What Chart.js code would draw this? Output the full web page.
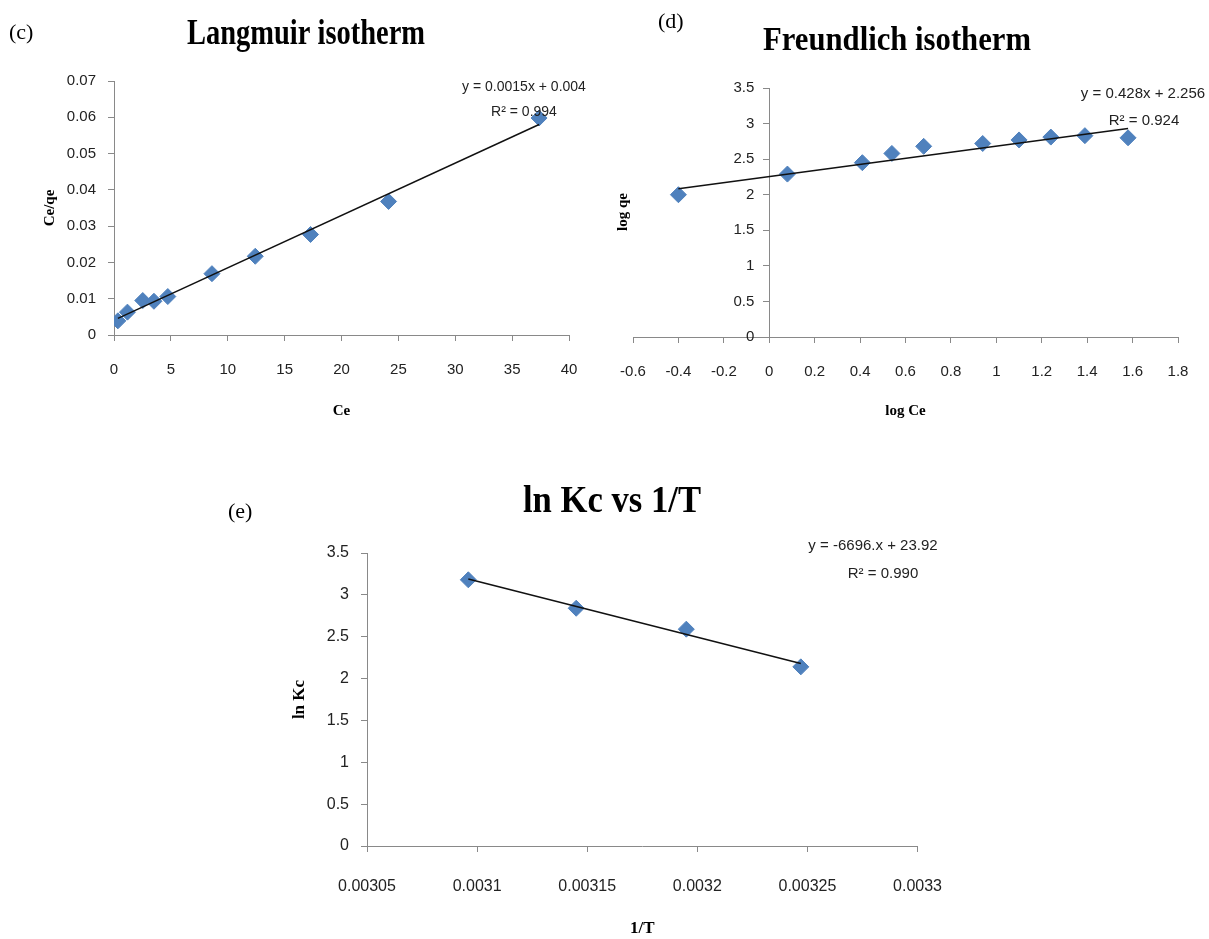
<!DOCTYPE html>
<html>
<head>
<meta charset="utf-8">
<script src="https://cdn.jsdelivr.net/npm/chart.js@4.4.1/dist/chart.umd.min.js"></script>
<style>
  html, body { margin: 0; padding: 0; background: #fff; }
  #page { position: relative; width: 1209px; height: 939px; overflow: hidden; }
  canvas { position: absolute; }
  #cLang { left: 0; top: 0; width: 600px; height: 440px; }
  #cFreu { left: 600px; top: 0; width: 609px; height: 440px; }
  #cKc { left: 220px; top: 460px; width: 747px; height: 479px; }
</style>
</head>
<body>
<div id="page">
  <canvas id="cLang" width="600" height="440"></canvas>
  <canvas id="cFreu" width="609" height="440"></canvas>
  <canvas id="cKc" width="747" height="479"></canvas>
</div>
<script>
// (c) Langmuir isotherm
const langCe = [0.34, 1.18, 2.53, 3.51, 4.73, 8.61, 12.42, 17.28, 24.14, 37.37];
const langCeQe = [0.0039, 0.0063, 0.0095, 0.0093, 0.0106, 0.0169, 0.0217, 0.0277, 0.0368, 0.0598];
const langFitX = [0.34, 37.37];
const langFitY = [0.0046, 0.0580];
const langXTicks = [0, 5, 10, 15, 20, 25, 30, 35, 40];
const langYTicks = [0, 0.01, 0.02, 0.03, 0.04, 0.05, 0.06, 0.07];

// (d) Freundlich isotherm
const freuLogCe = [-0.40, 0.08, 0.41, 0.54, 0.68, 0.94, 1.10, 1.24, 1.39, 1.58];
const freuLogQe = [2.00, 2.29, 2.45, 2.58, 2.68, 2.72, 2.77, 2.81, 2.83, 2.80];
const freuFitX = [-0.40, 1.58];
const freuFitY = [2.085, 2.932];
const freuXTicks = [-0.6, -0.4, -0.2, 0, 0.2, 0.4, 0.6, 0.8, 1, 1.2, 1.4, 1.6, 1.8];
const freuYTicks = [0, 0.5, 1, 1.5, 2, 2.5, 3, 3.5];

// (e) ln Kc vs 1/T
const kcInvT = [0.003096, 0.003145, 0.003195, 0.003247];
const kcLnKc = [3.18, 2.84, 2.59, 2.14];
const kcFitX = [0.003096, 0.003247];
const kcFitY = [3.19, 2.18];
const kcXTicks = [0.00305, 0.0031, 0.00315, 0.0032, 0.00325, 0.0033];
const kcYTicks = [0, 0.5, 1, 1.5, 2, 2.5, 3, 3.5];

const BLUE = '#4F81BD';
const AXIS = '#898989';
const SANS = '"Liberation Sans", Arial, sans-serif';
const SERIF = '"Liberation Serif", "Times New Roman", serif';

// free text drawn on the canvas: titles, panel letters, trendline equations
const textPlugin = {
    id: 'panelText',
    afterDraw(chart, args, opts) {
        const ctx = chart.ctx;
        (opts.items || []).forEach(t => {
            ctx.save();
            ctx.font = t.font;
            ctx.fillStyle = t.color || '#000';
            ctx.textBaseline = t.baseline || 'alphabetic';
            ctx.textAlign = t.align || 'left';
            ctx.translate(t.x, t.y);
            if (t.rotate) ctx.rotate(t.rotate);
            if (t.width) {
                const w = ctx.measureText(t.text).width;
                ctx.scale(t.width / w, 1);
            }
            ctx.fillText(t.text, 0, 0);
            ctx.restore();
        });
    }
};

function pts(xs, ys) {
    return xs.map((x, i) => ({ x, y: ys[i] }));
}

function datasets(xs, ys, fx, fy) {
    return [
        {
            data: pts(fx, fy),
            showLine: true,
            pointRadius: 0,
            borderColor: '#111',
            borderWidth: 1.5,
            order: 0
        },
        {
            data: pts(xs, ys),
            pointStyle: 'rectRot',
            pointRadius: 8,
            backgroundColor: BLUE,
            borderColor: BLUE,
            borderWidth: 1,
            order: 1
        }
    ];
}

function axis(ticks, decimals, extra) {
    const base = {
        type: 'linear',
        min: ticks[0],
        max: ticks[ticks.length - 1],
        afterBuildTicks: s => { s.ticks = ticks.map(v => ({ value: v })); },
        grid: { display: true, drawOnChartArea: false, drawTicks: true, tickLength: 6, color: AXIS, lineWidth: 1 },
        border: { display: true, color: AXIS, width: 1 },
        ticks: {
            color: '#222',
            font: { family: SANS, size: 15 },
            padding: 12,
            maxRotation: 0,
            autoSkip: false,
            callback: v => String(+Number(v).toFixed(decimals))
        },
        title: { display: false }
    };
    return Object.assign(base, extra);
}

function makeChart(id, ds, scales, padding, items) {
    return new Chart(document.getElementById(id), {
        type: 'scatter',
        data: { datasets: ds },
        options: {
            responsive: false,
            animation: false,
            events: [],
            layout: { padding },
            plugins: {
                legend: { display: false },
                tooltip: { enabled: false },
                panelText: { items }
            },
            scales
        },
        plugins: [textPlugin]
    });
}

// (c)
makeChart('cLang',
    datasets(langCe, langCeQe, langFitX, langFitY),
    {
        x: axis(langXTicks, 0, {
            position: 'bottom',
            afterFit: s => { s.height = 440 - 335; },
            ticks: { color: '#222', font: { family: SANS, size: 15 }, padding: 20, maxRotation: 0, autoSkip: false,
                callback: v => String(+Number(v).toFixed(0)) },
            title: { display: true, text: 'Ce', color: '#000', font: { family: SERIF, size: 15, weight: 'bold' }, padding: { top: 0, bottom: 20 } }
        }),
        y: axis(langYTicks, 2, {
            position: 'left',
            afterFit: s => { s.width = 114; },
            title: { display: true, text: 'Ce/qe', color: '#000', font: { family: SERIF, size: 15, weight: 'bold' }, padding: { top: 41, bottom: 0 } }
        })
    },
    { top: 81, right: 31, left: 0, bottom: 0 },
    [
        { text: '(c)', x: 9, y: 39, font: '22px ' + SERIF },
        { text: 'Langmuir isotherm', x: 306, y: 44, align: 'center', width: 238, font: 'bold 36px ' + SERIF },
        { text: 'y = 0.0015x + 0.004', x: 524, y: 91, align: 'center', color: '#222', font: '14px ' + SANS },
        { text: 'R\u00B2 = 0.994', x: 524, y: 116, align: 'center', color: '#222', font: '14px ' + SANS }
    ]
);

// (d) y axis crosses at x = 0; its labels get a small gap from the axis line
makeChart('cFreu',
    datasets(freuLogCe, freuLogQe, freuFitX, freuFitY),
    {
        x: axis(freuXTicks, 1, {
            position: 'bottom',
            afterFit: s => { s.height = 440 - 337; },
            ticks: { color: '#222', font: { family: SANS, size: 15 }, padding: 20, maxRotation: 0, autoSkip: false,
                callback: v => String(+Number(v).toFixed(1)) },
            title: { display: true, text: 'log Ce', color: '#000', font: { family: SERIF, size: 15, weight: 'bold' }, padding: { top: 0, bottom: 20 } }
        }),
        y: axis(freuYTicks, 1, {
            position: { x: 0 },
            ticks: { color: '#222', font: { family: SANS, size: 15 }, autoSkip: false,
                callback: v => String(+Number(v).toFixed(1)) + '\u2002\u2002' }
        })
    },
    { top: 88, right: 31, left: 33, bottom: 0 },
    [
        { text: '(d)', x: 58, y: 28, font: '22px ' + SERIF },
        { text: 'Freundlich isotherm', x: 297, y: 50, align: 'center', width: 268, font: 'bold 33px ' + SERIF },
        { text: 'log qe', x: 23, y: 212, align: 'center', baseline: 'middle', rotate: -Math.PI / 2, font: 'bold 15px ' + SERIF },
        { text: 'y = 0.428x + 2.256', x: 543, y: 98, align: 'center', color: '#222', font: '15px ' + SANS },
        { text: 'R\u00B2 = 0.924', x: 544, y: 125, align: 'center', color: '#222', font: '15px ' + SANS }
    ]
);

// (e)
makeChart('cKc',
    datasets(kcInvT, kcLnKc, kcFitX, kcFitY),
    {
        x: axis(kcXTicks, 5, {
            position: 'bottom',
            afterFit: s => { s.height = 479 - 386; },
            ticks: { color: '#222', font: { family: SANS, size: 16 }, padding: 25, maxRotation: 0, autoSkip: false,
                callback: v => String(+Number(v).toFixed(5)) },
            title: { display: true, text: '1/T', color: '#000', font: { family: SERIF, size: 17, weight: 'bold' }, padding: { top: 0, bottom: 0 } }
        }),
        y: axis(kcYTicks, 1, {
            position: 'left',
            afterFit: s => { s.width = 147; },
            ticks: { color: '#222', font: { family: SANS, size: 16 }, padding: 12, autoSkip: false,
                callback: v => String(+Number(v).toFixed(1)) },
            title: { display: true, text: 'ln Kc', color: '#000', font: { family: SERIF, size: 17, weight: 'bold' }, padding: { top: 69, bottom: 0 } }
        })
    },
    { top: 93, right: 33, left: 0, bottom: 0 },
    [
        { text: '(e)', x: 8, y: 58, font: '22px ' + SERIF },
        { text: 'ln Kc vs 1/T', x: 392, y: 52, align: 'center', width: 178, font: 'bold 38px ' + SERIF },
        { text: 'y = -6696.x + 23.92', x: 653, y: 90, align: 'center', color: '#222', font: '15px ' + SANS },
        { text: 'R\u00B2 = 0.990', x: 663, y: 118, align: 'center', color: '#222', font: '15px ' + SANS }
    ]
);
</script>
</body>
</html>
